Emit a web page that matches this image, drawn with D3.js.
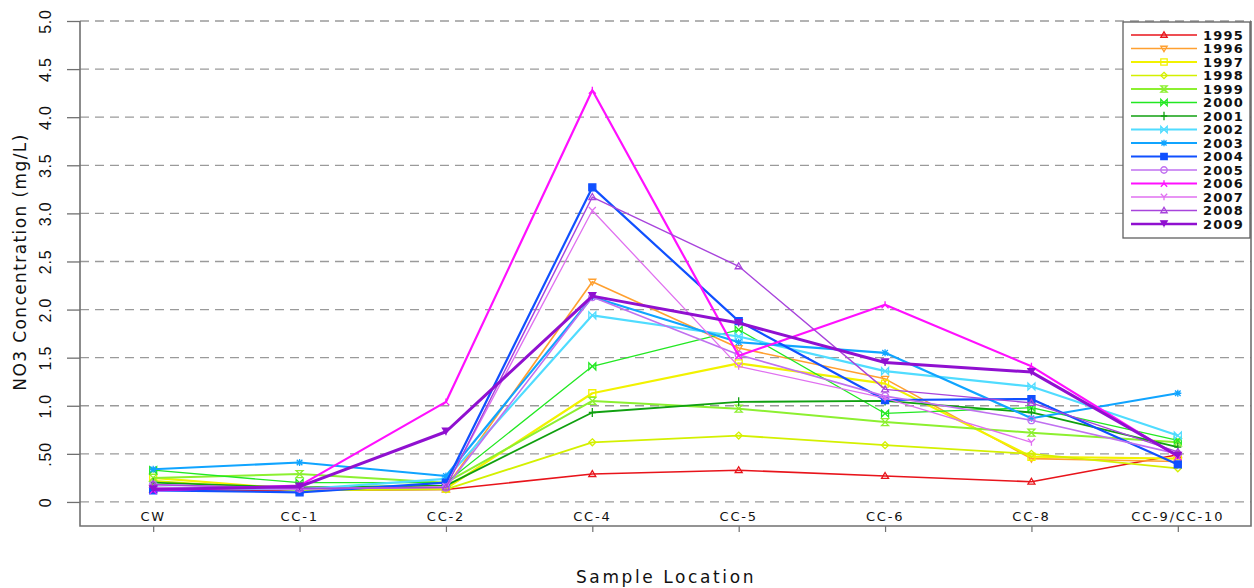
<!DOCTYPE html>
<html>
<head>
<meta charset="utf-8">
<script src="https://cdn.jsdelivr.net/npm/d3@7"></script>
<style>
  html, body { margin: 0; padding: 0; background: #fff; }
  svg { display: block; font-family: "DejaVu Sans", sans-serif; }
</style>
</head>
<body>
<svg id="chart" width="1254" height="588"></svg>
<script>
const categories = ['CW', 'CC-1', 'CC-2', 'CC-4', 'CC-5', 'CC-6', 'CC-8', 'CC-9/CC-10']
const years = ['1995', '1996', '1997', '1998', '1999', '2000', '2001', '2002',
  '2003', '2004', '2005', '2006', '2007', '2008', '2009']
const yTicks = [0, 0.5, 1, 1.5, 2, 2.5, 3, 3.5, 4, 4.5, 5]
const yTickLabels = ['0', '.50', '1.0', '1.5', '2.0', '2.5', '3.0', '3.5', '4.0', '4.5', '5.0']

// NO3 (mg/L) per sample location
const v1995 = [0.13, 0.12, 0.13, 0.29, 0.33, 0.27, 0.21, 0.49]
const v1996 = [0.15, 0.13, 0.15, 2.29, 1.60, 1.28, 0.45, 0.42]
const v1997 = [0.25, 0.13, 0.14, 1.13, 1.44, 1.23, 0.47, 0.45]
const v1998 = [0.22, 0.12, 0.13, 0.62, 0.69, 0.59, 0.50, 0.35]
const v1999 = [0.25, 0.29, 0.20, 1.05, 0.97, 0.83, 0.72, 0.62]
const v2000 = [0.33, 0.20, 0.20, 1.41, 1.79, 0.92, 0.98, 0.64]
const v2001 = [0.20, 0.15, 0.17, 0.93, 1.04, 1.05, 0.93, 0.57]
const v2002 = [0.15, 0.13, 0.24, 1.94, 1.72, 1.36, 1.20, 0.69]
const v2003 = [0.34, 0.41, 0.27, 2.13, 1.66, 1.55, 0.87, 1.13]
const v2004 = [0.12, 0.10, 0.20, 3.27, 1.88, 1.06, 1.07, 0.39]
const v2005 = [0.18, 0.14, 0.15, 2.13, 1.53, 1.10, 0.85, 0.50]
const v2006 = [0.12, 0.17, 1.04, 4.28, 1.52, 2.05, 1.41, 0.47]
const v2007 = [0.15, 0.13, 0.16, 3.03, 1.41, 1.08, 0.62, null]
const v2008 = [0.18, 0.14, 0.15, 3.17, 2.45, 1.17, 1.03, 0.52]
const v2009 = [0.13, 0.16, 0.73, 2.14, 1.86, 1.45, 1.35, 0.48]

const seriesValues = [v1995, v1996, v1997, v1998, v1999, v2000, v2001, v2002,
  v2003, v2004, v2005, v2006, v2007, v2008, v2009]

const COLORS = ['#e8141b', '#ffa030', '#f2f200', '#d4f000', '#8cf030', '#22e822', '#10a010',
  '#50dcff', '#10a4ff', '#1050ff', '#c070f0', '#ff10ff', '#e070f0', '#a844dc', '#9010d0']
const WIDTHS = [1.6, 1.6, 2.2, 1.8, 2, 1.3, 1.8, 2.2, 2.2, 2.2, 1.6, 2.2, 1.3, 1.4, 3]
const MARKERS = ['triUp', 'triDown', 'square', 'diamond', 'hourglass', 'bowtie', 'plus', 'bowtie',
  'asterisk', 'squareDot', 'circle', 'tripod', 'fork', 'triUp', 'tee']

function markerPath(type, s) {
  switch (type) {
    case 'triUp': return `M0,${-s}L${s},${s * 0.7}L${-s},${s * 0.7}Z`
    case 'triDown': return `M0,${s}L${s},${-s * 0.7}L${-s},${-s * 0.7}Z`
    case 'square':
    case 'squareDot': return `M${-s},${-s}H${s}V${s}H${-s}Z`
    case 'diamond': return `M0,${-s}L${s},0L0,${s}L${-s},0Z`
    case 'hourglass': return `M${-s},${-s}H${s}L${-s},${s}H${s}Z`
    case 'bowtie': return `M${-s},${-s}V${s}L${s},${-s}V${s}Z`
    case 'plus': return `M0,${-s * 1.3}V${s * 1.3}M${-s},0H${s}`
    case 'asterisk': return `M${-s},0H${s}M0,${-s}V${s}M${-s * 0.8},${-s * 0.8}L${s * 0.8},${s * 0.8}M${-s * 0.8},${s * 0.8}L${s * 0.8},${-s * 0.8}`
    case 'circle': return d3.symbol(d3.symbolCircle, s * s * 3.2)()
    case 'tripod': return `M0,${-s}V0L${-s},${s}M0,0L${s},${s}`
    case 'fork': return `M0,${s}V0L${-s},${-s}M0,0L${s},${-s}`
    case 'tee': return `M${-s},${-s}H${s}L0,${s * 0.6}Z M0,0V${s}`
    default: return ''
  }
}

const plotLeft = 80
const plotRight = 1251
const plotTop = 21
const plotBottom = 526

const svg = d3.select('#chart')

const x = d3.scalePoint().domain(categories).range([plotLeft, plotRight]).padding(0.5)
const y = d3.scaleLinear().domain([-0.25, 5]).range([plotBottom, plotTop])

// dashed grid
svg.append('g')
  .selectAll('line')
  .data(yTicks)
  .join('line')
  .attr('x1', plotLeft)
  .attr('x2', plotRight)
  .attr('y1', (d) => y(d))
  .attr('y2', (d) => y(d))
  .attr('stroke', '#9a9a9a')
  .attr('stroke-width', 1.3)
  .attr('stroke-dasharray', '9,6')

// frame
svg.append('path')
  .attr('d', `M${plotLeft},${plotTop}V${plotBottom}H${plotRight}V${plotTop}`)
  .attr('fill', 'none')
  .attr('stroke', '#707070')
  .attr('stroke-width', 1.6)

// y axis ticks & labels
const yAxis = svg.append('g').attr('transform', `translate(${plotLeft},0)`)
  .call(d3.axisLeft(y).tickValues(yTicks).tickSize(13).tickFormat((d, i) => yTickLabels[i]))
yAxis.select('.domain').remove()
yAxis.selectAll('.tick line').attr('stroke', '#707070').attr('stroke-width', 1.3)
yAxis.selectAll('.tick text')
  .attr('transform', 'rotate(-90)')
  .attr('x', 0)
  .attr('y', -35)
  .attr('dy', '0.35em')
  .attr('text-anchor', 'middle')
  .attr('font-size', 16)
  .attr('letter-spacing', 0.8)
  .attr('fill', '#111')

svg.append('text')
  .attr('transform', 'translate(20,262) rotate(-90)')
  .attr('text-anchor', 'middle')
  .attr('dy', '0.35em')
  .attr('font-size', 17)
  .attr('letter-spacing', 1.4)
  .attr('fill', '#111')
  .text('NO3 Concentration (mg/L)')

// x axis: ticks below, labels above the axis line
const xAxis = svg.append('g').attr('transform', `translate(0,${plotBottom})`)
  .call(d3.axisBottom(x).tickSize(6).tickFormat(''))
xAxis.select('.domain').remove()
xAxis.selectAll('.tick line').attr('stroke', '#707070').attr('stroke-width', 1.2)

svg.append('g')
  .selectAll('text')
  .data(categories)
  .join('text')
  .attr('x', (d) => x(d))
  .attr('y', plotBottom - 5)
  .attr('text-anchor', 'middle')
  .attr('font-size', 13)
  .attr('letter-spacing', 1.8)
  .attr('fill', '#111')
  .text((d) => d)

svg.append('text')
  .attr('x', 666)
  .attr('y', 583)
  .attr('text-anchor', 'middle')
  .attr('font-size', 17)
  .attr('letter-spacing', 2.6)
  .attr('fill', '#111')
  .text('Sample Location')

// series
const series = years.map((yr, i) => ({
  year: yr,
  values: seriesValues[i],
  color: COLORS[i],
  width: WIDTHS[i],
  marker: MARKERS[i],
}))

const line = d3.line()
  .defined((d) => d.v != null)
  .x((d) => x(d.c))
  .y((d) => y(d.v))

const seriesG = svg.append('g')
  .selectAll('g')
  .data(series)
  .join('g')

seriesG.append('path')
  .attr('d', (s) => line(s.values.map((v, j) => ({ c: categories[j], v }))))
  .attr('fill', 'none')
  .attr('stroke', (s) => s.color)
  .attr('stroke-width', (s) => s.width)
  .attr('stroke-linejoin', 'round')

seriesG.each(function (s) {
  d3.select(this)
    .selectAll('path.mk')
    .data(s.values.map((v, j) => ({ c: categories[j], v })).filter((d) => d.v != null))
    .join('path')
    .attr('class', 'mk')
    .attr('transform', (d) => `translate(${x(d.c)},${y(d.v)})`)
    .attr('d', markerPath(s.marker, 3.5))
    .attr('fill', s.marker === 'squareDot' || s.marker === 'tee' ? s.color : 'none')
    .attr('stroke', s.color)
    .attr('stroke-width', 1.3)
})

// legend
const lg = svg.append('g')
lg.append('rect')
  .attr('x', 1123)
  .attr('y', 22)
  .attr('width', 127)
  .attr('height', 216)
  .attr('fill', '#fff')
  .attr('stroke', '#606060')
  .attr('stroke-width', 1.3)

const legendRow = d3.scaleLinear().domain([0, years.length - 1]).range([35, 224])

const item = lg.selectAll('g.item')
  .data(series)
  .join('g')
  .attr('class', 'item')
  .attr('transform', (s, i) => `translate(0,${legendRow(i)})`)

item.append('line')
  .attr('x1', 1131)
  .attr('x2', 1197)
  .attr('stroke', (s) => s.color)
  .attr('stroke-width', (s) => Math.max(1.3, s.width * 0.9))

item.append('path')
  .attr('transform', 'translate(1164,0)')
  .attr('d', (s) => markerPath(s.marker, 3.2))
  .attr('fill', (s) => (s.marker === 'squareDot' || s.marker === 'tee' ? s.color : 'none'))
  .attr('stroke', (s) => s.color)
  .attr('stroke-width', 1.3)

item.append('text')
  .attr('x', 1203)
  .attr('dy', '0.38em')
  .attr('font-size', 13)
  .attr('font-weight', 'bold')
  .attr('letter-spacing', 1.2)
  .attr('fill', '#111')
  .text((s) => s.year)
</script>
</body>
</html>
